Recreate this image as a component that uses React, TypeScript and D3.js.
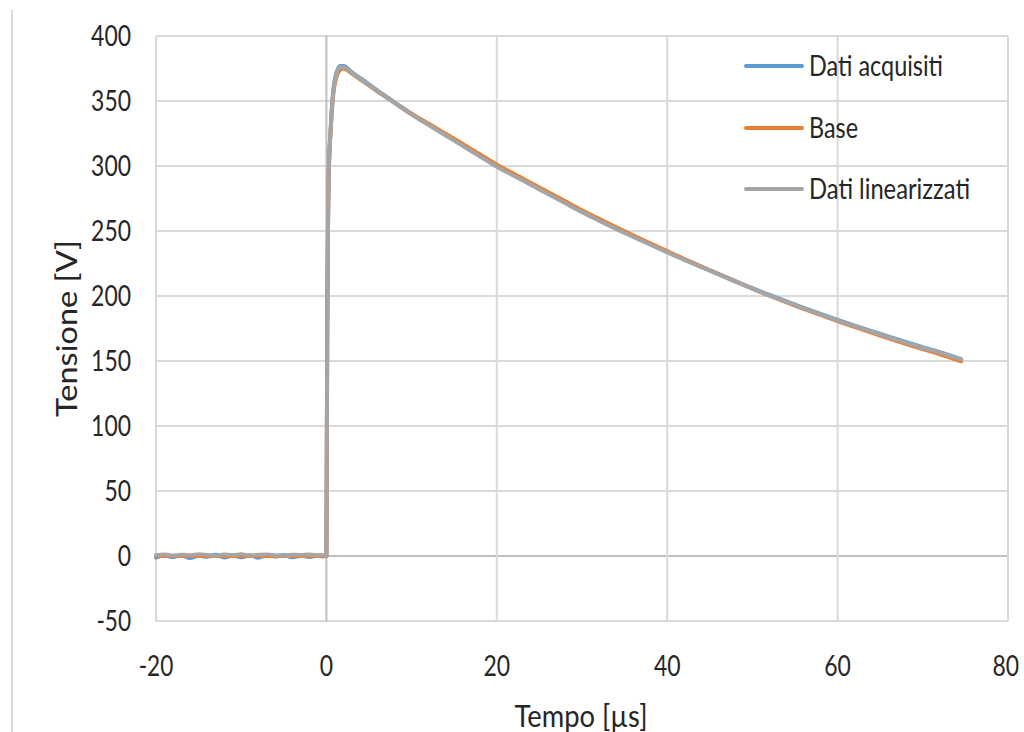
import React from "react";
import * as d3 from "d3";

const timeUs = [
  -20, -19, -18, -17, -16, -15, -14, -13, -12, -11, -10, -9, -8, -7, -6, -5, -4, -3, -2, -1, -0.5,
  0, 0.05, 0.1, 0.2, 0.3, 0.5, 0.7, 0.9, 1.2, 1.6, 2, 3, 4, 6, 8, 10, 12, 14, 16, 18, 20, 22, 25,
  28, 30, 32, 35, 38, 40, 42, 45, 48, 50, 52, 55, 58, 60, 62, 65, 68, 70, 72, 74.5,
];

const datiAcquisiti = [
  -1.2, 0.4, -0.8, 0.6, -1.5, 0.2, -0.6, 0.9, -1.1, 0.3, -0.9, 0.5, -1.3, 0.7, -0.4, 0.8, -1.0, 0.1, -0.7, 0.4, -0.3,
  0, 80, 170, 260, 298, 328, 350, 363, 372, 377, 377, 372, 367.5, 358, 349, 340, 332, 324, 316, 308, 300, 293, 282.5,
  272, 265, 258.5, 249, 240, 234, 228.2, 219.8, 211.5, 206, 200.8, 193.3, 186.2, 181.6, 177.2, 170.8, 164.6, 160.6, 156.8, 151.5,
];

const base = [
  0, 0, 0, 0, 0, 0, 0, 0, 0, 0, 0, 0, 0, 0, 0, 0, 0, 0, 0, 0, 0,
  0, 90, 180, 265, 300, 328, 348, 360, 369, 374, 375, 371, 366.5, 357.5, 348.5, 340, 332.5, 324.8, 317, 309, 301, 294, 283.5,
  273, 266, 259.3, 249.7, 240.5, 234.5, 228.5, 219.8, 211.3, 205.6, 200.2, 192.6, 185.4, 180.7, 176.2, 169.6, 163.2, 159.1, 155.2, 149.8,
];

const datiLinearizzati = [
  0.6, 1.2, 0.3, 1.0, 0.5, 1.4, 0.8, 0.2, 1.1, 0.7, 1.3, 0.4, 0.9, 1.2, 0.6, 0.3, 1.0, 0.8, 1.1, 0.5, 0.7,
  0.5, 82, 172, 261, 298, 327, 349, 362, 371, 376, 376, 371.5, 367, 357.5, 348.5, 339.5, 331.5, 323.5, 315.5, 307.5, 299.5, 292.5, 282,
  271.5, 264.5, 258, 248.5, 239.5, 233.5, 227.8, 219.4, 211.1, 205.6, 200.4, 192.9, 185.8, 181.2, 176.8, 170.4, 164.2, 160.2, 156.4, 151,
];

const xTicks = [-20, 0, 20, 40, 60, 80];
const yTicks = [-50, 0, 50, 100, 150, 200, 250, 300, 350, 400];

const seriesNames = ["Dati acquisiti", "Base", "Dati linearizzati"];
const seriesColors = ["#5B9BD5", "#ED7D31", "#A5A5A5"];
const seriesData = [datiAcquisiti, base, datiLinearizzati];

const W = 1024;
const H = 732;
const plot = { left: 156, right: 1008, top: 36, bottom: 621 };
const FONT = "Lato, 'Open Sans', sans-serif";

function tickLen(s: string) {
  let w = 0;
  for (const c of s) w += c === "-" ? 8 : 13.3;
  return w;
}

export default function App() {
  const x = d3.scaleLinear().domain([-20, 80]).range([plot.left, plot.right]);
  const y = d3.scaleLinear().domain([-50, 400]).range([plot.bottom, plot.top]);

  const line = (vals: number[]) =>
    d3
      .line<number>()
      .curve(d3.curveMonotoneX)
      .x((_, i) => x(timeUs[i]))
      .y((v) => y(v))(vals) || "";

  const legendY = [66, 128, 189];
  const legendLen = [134, 49, 161];

  return (
    <svg
      width={W}
      height={H}
      style={{ position: "absolute", left: 0, top: 0, background: "#fff" }}
    >
      <rect x={0} y={0} width={W} height={H} fill="#fff" />
      <line x1={12} x2={12} y1={10} y2={H} stroke="#d9d9d9" strokeWidth={2} />

      {yTicks.map((t) => (
        <line
          key={"gy" + t}
          x1={plot.left}
          x2={plot.right}
          y1={y(t)}
          y2={y(t)}
          stroke={t === 0 ? "#bfbfbf" : "#d9d9d9"}
          strokeWidth={2}
        />
      ))}
      {xTicks.map((t) => (
        <line
          key={"gx" + t}
          x1={x(t)}
          x2={x(t)}
          y1={plot.top}
          y2={plot.bottom}
          stroke={t === 0 ? "#bfbfbf" : "#d9d9d9"}
          strokeWidth={2}
        />
      ))}

      {seriesData.map((vals, i) => (
        <path
          key={seriesNames[i]}
          d={line(vals)}
          fill="none"
          stroke={seriesColors[i]}
          strokeWidth={4}
          strokeLinejoin="round"
          strokeLinecap="round"
        />
      ))}

      {yTicks.map((t) => (
        <text
          key={"ty" + t}
          x={131}
          y={y(t)}
          dy="0.36em"
          textAnchor="end"
          fontFamily={FONT}
          fontSize={28}
          fill="#262626"
          textLength={tickLen(String(t))}
          lengthAdjust="spacingAndGlyphs"
        >
          {t}
        </text>
      ))}

      {xTicks.map((t, i) => {
        const last = i === xTicks.length - 1;
        return (
          <text
            key={"tx" + t}
            x={last ? 1019 : x(t)}
            y={666}
            dy="0.36em"
            textAnchor={last ? "end" : "middle"}
            fontFamily={FONT}
            fontSize={28}
            fill="#262626"
            textLength={tickLen(String(t))}
            lengthAdjust="spacingAndGlyphs"
          >
            {t}
          </text>
        );
      })}

      <text
        x={581}
        y={727}
        textAnchor="middle"
        fontFamily={FONT}
        fontSize={30}
        fill="#262626"
        textLength={133}
        lengthAdjust="spacingAndGlyphs"
      >
        Tempo [µs]
      </text>
      <text
        transform={`translate(77, ${(plot.top + plot.bottom) / 2}) rotate(-90)`}
        textAnchor="middle"
        fontFamily={FONT}
        fontSize={28}
        fill="#262626"
        textLength={177}
        lengthAdjust="spacingAndGlyphs"
      >
        Tensione [V]
      </text>

      {seriesNames.map((n, i) => (
        <g key={"lg" + n}>
          <line
            x1={746}
            x2={802}
            y1={legendY[i]}
            y2={legendY[i]}
            stroke={seriesColors[i]}
            strokeWidth={4}
            strokeLinecap="round"
          />
          <text
            x={809}
            y={legendY[i]}
            dy="0.36em"
            fontFamily={FONT}
            fontSize={28}
            fill="#262626"
            textLength={legendLen[i]}
            lengthAdjust="spacingAndGlyphs"
          >
            {n}
          </text>
        </g>
      ))}
    </svg>
  );
}
